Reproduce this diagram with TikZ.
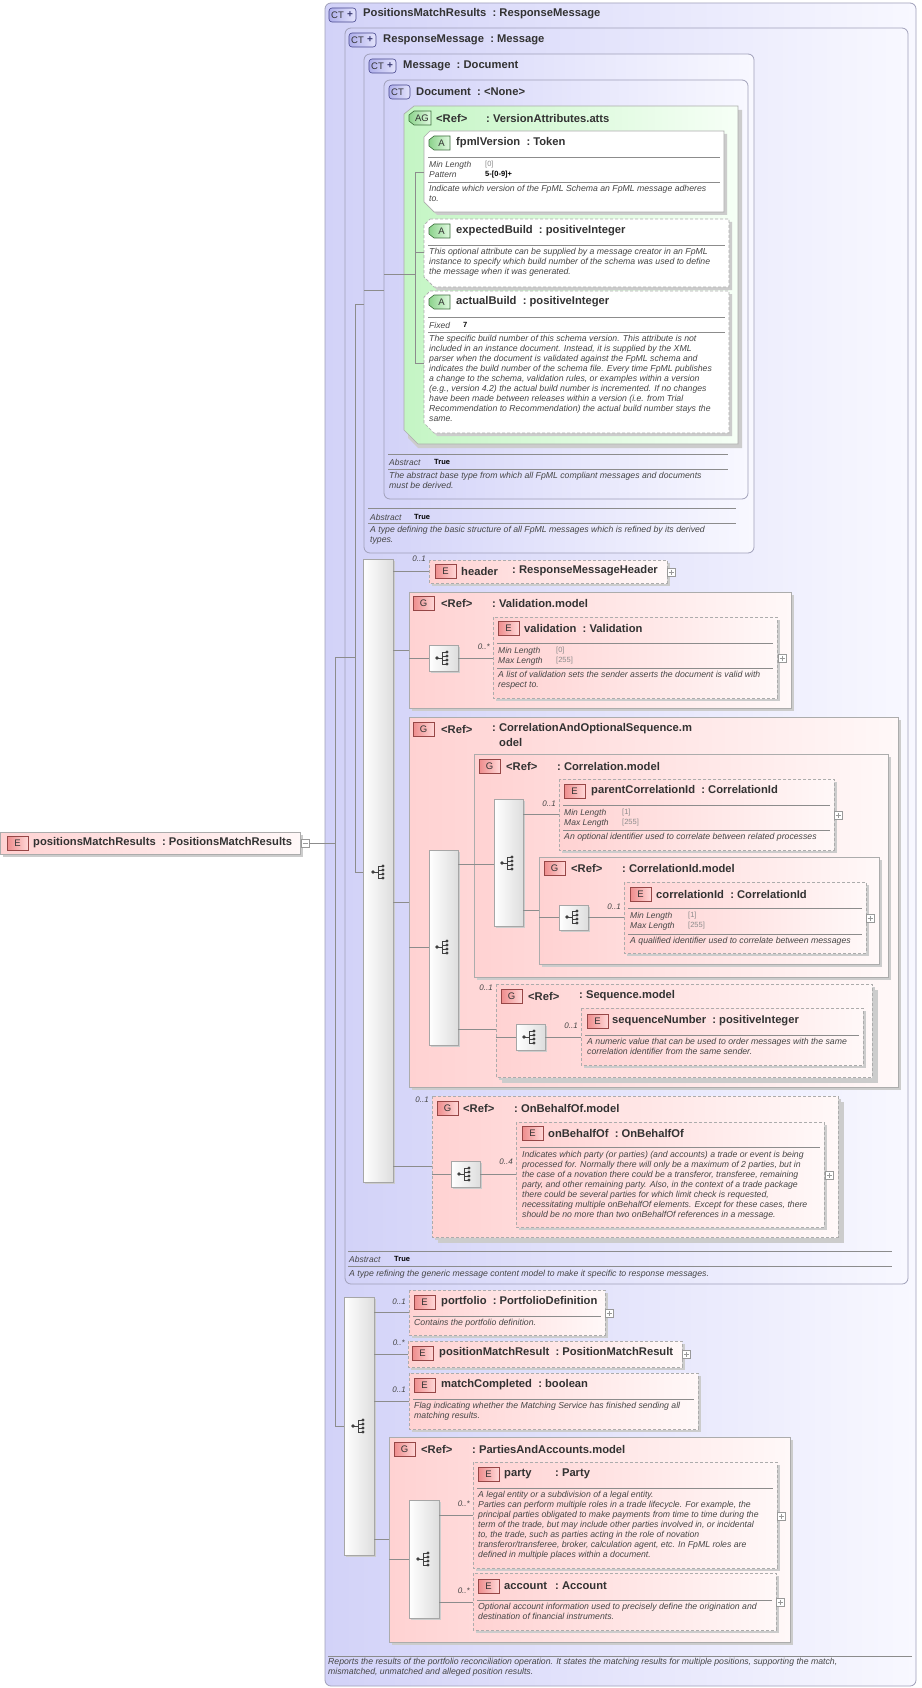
\documentclass[tikz,border=0pt]{standalone}
\usepackage{fontspec}
\setmainfont{Liberation Sans}
\definecolor{ctL}{RGB}{210,210,248}\definecolor{ctR}{RGB}{248,248,255}\definecolor{ctB}{RGB}{160,160,185}
\definecolor{eL}{RGB}{255,210,210}\definecolor{eR}{RGB}{255,248,248}
\definecolor{agL}{RGB}{196,245,196}\definecolor{agR}{RGB}{246,255,246}
\definecolor{bxB}{RGB}{172,172,172}\definecolor{txt}{RGB}{50,50,50}\definecolor{dtx}{RGB}{70,70,70}
\definecolor{eBL}{RGB}{238,140,140}\definecolor{eBR}{RGB}{255,215,215}\definecolor{eBD}{RGB}{150,70,70}
\definecolor{aBL}{RGB}{140,210,140}\definecolor{aBR}{RGB}{225,250,225}\definecolor{aBD}{RGB}{60,110,60}
\definecolor{cBL}{RGB}{175,175,235}\definecolor{cBR}{RGB}{228,228,252}\definecolor{cBD}{RGB}{70,70,140}
\newcommand\bE[3]{\draw[bdgE] (#1,#2-7) rectangle (#1+21,#2+7); \node[bt] at (#1+10.5,#2) {#3};}
\newcommand\bA[4]{\draw[bdgA] (#1+5,#2-7) -- (#1+#3,#2-7) -- (#1+#3,#2+7) -- (#1+5,#2+7) -- (#1,#2+3) -- (#1,#2-3) -- cycle; \node[bt] at (#1+2+#3/2,#2) {#4};}
\newcommand\bCT[4]{\draw[bdgC] (#1,#2-7) rectangle (#1+#3,#2+7); \node[bt,anchor=west] at (#1+2,#2) {CT}; \node[bt,font=\fontsize{10}{10}\selectfont\bfseries,text=cBD!80!black] at (#1+#3-6,#2) {#4};}
\newcommand\T[3]{\node[ttl] at (#1,#2) {#3};}
\newcommand\D[3]{\node[dsc] at (#1,#2-5.5) {#3};}
\newcommand\C[3]{\node[crd] at (#1,#2) {#3};}
\newcommand\Pk[5]{\node[pk] at (#1,#2) {#3}; \node[pv] at (#4,#2) {#5};}
\newcommand\Pb[5]{\node[pk] at (#1,#2) {#3}; \node[pb] at (#4,#2) {#5};}
\newcommand\Sp[3]{\draw[sep] (#1,#3) -- (#2,#3);}
\newcommand\pl[2]{\draw[plb,fill=white] (#1-4,#2-4) rectangle (#1+4,#2+4); \draw[plb] (#1-2.5,#2)--(#1+2.5,#2) (#1,#2-2.5)--(#1,#2+2.5);}
\newcommand\si[2]{\draw[icl] (#1-6,#2)--(#1-1,#2) (#1-1,#2-6)--(#1-1,#2+6) (#1-1,#2-6)--(#1+3,#2-6) (#1-1,#2-2)--(#1+3,#2-2) (#1-1,#2+2)--(#1+3,#2+2) (#1-1,#2+6)--(#1+3,#2+6);
 \foreach \d in {-6,-2,2,6} \fill[icf] (#1+4,#2+\d) circle (1.6); \fill[icf] (#1-6,#2) circle (1.8);}
\newcommand\sbx[4]{\fill[shd] (#1+2,#2+2) rectangle (#3+2,#4+2); \draw[sb] (#1,#2) rectangle (#3,#4);}
\newcommand\bx[5][]{\fill[shd] (#2+3,#3+3) rectangle (#4+3,#5+3); \draw[eb,#1] (#2,#3) rectangle (#4,#5);}
\newcommand\cc{\ \ :\ }
\begin{document}
\begin{tikzpicture}[x=1pt,y=-1pt,
 shd/.style={fill=black!20},
 ct/.style={draw=ctB,rounded corners=6pt,left color=ctL,right color=ctR,line width=0.8pt},
 eb/.style={draw=bxB,left color=eL,right color=eR,line width=0.7pt},
 ab/.style={draw=bxB,left color=agL,right color=agR,line width=0.7pt},
 wb/.style={draw=bxB,fill=white,line width=0.7pt},
 dsh/.style={dash pattern=on 3pt off 2pt},
 ttl/.style={anchor=west,inner sep=0,font=\fontsize{11.2}{12}\selectfont\bfseries,text=txt},
 dsc/.style={anchor=north west,inner sep=0,align=left,font=\fontsize{8.7}{10}\selectfont\itshape,text=dtx},
 crd/.style={anchor=east,inner sep=0,font=\fontsize{8}{9}\selectfont\itshape,text=dtx},
 pk/.style={anchor=west,inner sep=0,font=\fontsize{8.5}{9}\selectfont\itshape,text=dtx},
 pv/.style={anchor=west,inner sep=0,font=\fontsize{7.5}{9}\selectfont,text=black!45},
 pb/.style={anchor=west,inner sep=0,font=\fontsize{7.5}{9}\selectfont\bfseries,text=black},
 sep/.style={draw=black!45,line width=0.6pt},
 cn/.style={draw=black!45,line width=0.6pt},
 bt/.style={inner sep=0,font=\fontsize{9.5}{10}\selectfont,text=txt},
 bdgE/.style={draw=eBD,left color=eBL,right color=eBR,line width=0.6pt},
 bdgA/.style={draw=aBD,left color=aBL,right color=aBR,line width=0.6pt},
 bdgC/.style={draw=cBD,left color=cBL,right color=cBR,line width=0.6pt,rounded corners=3pt},
 plb/.style={draw=black!40,line width=0.5pt},
 icl/.style={draw=black!75,line width=0.9pt},
 icf/.style={fill=black!75},
 sb/.style={draw=black!35,left color=white,right color=black!13,line width=0.6pt}]
\useasboundingbox (0,0) rectangle (921,1688);
\fill[white] (0,0) rectangle (921,1688);
% ---------- root element
\bx{0}{832}{300}{854}
\bE{7}{843}{E}\T{33}{843}{positionsMatchResults\cc PositionsMatchResults}
\draw[plb,fill=white] (301,839) rectangle (309,847); \draw[plb] (302.5,843)--(307.5,843);
% ---------- outer CT
\draw[ct] (325,3) rectangle (916,1686);
\bCT{329}{15}{27}{+}\T{363}{14}{PositionsMatchResults\cc ResponseMessage}
\draw[ct] (345,28) rectangle (908,1284);
\bCT{349}{40}{27}{+}\T{383}{40}{ResponseMessage\cc Message}
\draw[ct] (364,54) rectangle (754,553);
\bCT{369}{66}{27}{+}\T{403}{66}{Message\cc Document}
\draw[ct] (384,80) rectangle (748,499);
\bCT{389}{92}{21}{}\T{416}{92}{Document\cc <None>}
% ---------- AG
\fill[shd] (418,110)--(742,110)--(742,448)--(418,448)--(408,438)--(408,120)--cycle;
\draw[ab] (414,106)--(738,106)--(738,444)--(418,444)--(404,430)--(404,114)--cycle;
\bA{409}{118}{22}{AG}\T{436}{118}{<Ref>}\T{486}{118}{:~VersionAttributes.atts}
% fpmlVersion
\fill[shd] (433,134)--(727,134)--(727,215)--(437,215)--(427,205)--(427,140)--cycle;
\draw[wb] (430,131)--(724,131)--(724,212)--(434,212)--(424,202)--(424,137)--cycle;
\bA{429}{143}{21}{A}\T{456}{143}{fpmlVersion\cc Token}
\Sp{428}{720}{157}
\Pk{429}{165}{Min Length}{485}{[0]}
\Pb{429}{175}{Pattern}{485}{5-[0-9]+}
\Sp{428}{720}{182}
\D{429}{190}{Indicate which version of the FpML Schema an FpML message adheres\\to.}
% expectedBuild
\fill[shd] (433,222)--(732,222)--(732,290)--(437,290)--(427,280)--(427,228)--cycle;
\draw[wb,dsh] (430,219)--(729,219)--(729,287)--(434,287)--(424,277)--(424,225)--cycle;
\bA{429}{231}{21}{A}\T{456}{231}{expectedBuild\cc positiveInteger}
\Sp{428}{725}{245}
\D{429}{253}{This optional attribute can be supplied by a message creator in an FpML\\instance to specify which build number of the schema was used to define\\the message when it was generated.}
% actualBuild
\fill[shd] (433,294)--(732,294)--(732,436)--(437,436)--(427,426)--(427,300)--cycle;
\draw[wb,dsh] (430,291)--(729,291)--(729,433)--(434,433)--(424,423)--(424,297)--cycle;
\bA{429}{302}{21}{A}\T{456}{302}{actualBuild\cc positiveInteger}
\Sp{428}{725}{317}
\Pb{429}{325}{Fixed}{463}{7}
\Sp{428}{725}{332}
\D{429}{340}{The specific build number of this schema version. This attribute is not\\included in an instance document. Instead, it is supplied by the XML\\parser when the document is validated against the FpML schema and\\indicates the build number of the schema file. Every time FpML publishes\\a change to the schema, validation rules, or examples within a version\\(e.g., version 4.2) the actual build number is incremented. If no changes\\have been made between releases within a version (i.e. from Trial\\Recommendation to Recommendation) the actual build number stays the\\same.}
\draw[cn] (415,172)--(415,363) (415,172)--(424,172) (415,252)--(424,252) (415,363)--(424,363);
% Document abstract
\Sp{388}{728}{454}
\node[pk] at (389,462) {Abstract}; \node[pb] at (434,462) {True};
\Sp{388}{728}{469}
\D{389}{477}{The abstract base type from which all FpML compliant messages and documents\\must be derived.}
% Message abstract
\Sp{368}{736}{508}
\node[pk] at (370,517) {Abstract}; \node[pb] at (414,517) {True};
\Sp{368}{736}{523}
\D{370}{531}{A type defining the basic structure of all FpML messages which is refined by its derived\\types.}
% chain connectors
\draw[cn] (384,274)--(415,274) (364,290)--(384,290) (355,304)--(364,304) (355,304)--(355,872)--(363,872)
 (335,657)--(355,657) (335,657)--(335,1426)--(344,1426) (309,843)--(335,843);
% ---------- ResponseMessage sequence
\sbx{363}{559}{393}{1182}\si{379}{872}
% header
\bx[dsh]{429}{560}{667}{583}
\bE{435}{571}{E}\T{461}{571}{header}\T{512}{571}{:~ResponseMessageHeader}
\pl{671}{572}\C{426}{559}{0..1}
\draw[cn] (393,571)--(429,571);
% Validation.model
\bx{409}{592}{791}{708}
\bE{413}{603}{G}\T{441}{603}{<Ref>}\T{492}{603}{:~Validation.model}
\sbx{429}{645}{458}{671}\si{443}{658}
\draw[cn] (393,650)--(409,650) (409,658)--(429,658) (458,658)--(493,658);
\bx[dsh]{493}{617}{777}{698}
\bE{498}{628}{E}\T{524}{628}{validation\cc Validation}
\Sp{497}{773}{643}
\Pk{498}{651}{Min Length}{556}{[0]}
\Pk{498}{661}{Max Length}{556}{[255]}
\Sp{497}{773}{668}
\D{498}{676}{A list of validation sets the sender asserts the document is valid with\\respect to.}
\C{490}{647}{0..*}\pl{782}{658}
% CorrelationAndOptionalSequence.model
\bx{409}{717}{898}{1087}
\bE{413}{729}{G}\T{441}{729}{<Ref>}\T{492}{729}{:~CorrelationAndOptionalSequence.m}\T{499}{742}{odel}
\sbx{429}{850}{458}{1045}\si{443}{947}
\draw[cn] (393,902)--(409,902) (409,947)--(429,947);
% Correlation.model
\bx{474}{754}{888}{977}
\bE{479}{766}{G}\T{506}{766}{<Ref>}\T{557}{766}{:~Correlation.model}
\sbx{494}{799}{523}{926}\si{508}{863}
\draw[cn] (458,864)--(494,864);
\bx[dsh]{559}{779}{834}{850}
\bE{564}{791}{E}\T{591}{791}{parentCorrelationId\cc CorrelationId}
\Sp{563}{830}{805}
\Pk{564}{813}{Min Length}{622}{[1]}
\Pk{564}{823}{Max Length}{622}{[255]}
\Sp{563}{830}{830}
\D{564}{838}{An optional identifier used to correlate between related processes}
\C{556}{804}{0..1}\pl{838}{815}
\draw[cn] (523,814)--(559,814);
% CorrelationId.model
\bx{539}{857}{879}{964}
\bE{544}{868}{G}\T{571}{868}{<Ref>}\T{622}{868}{:~CorrelationId.model}
\sbx{559}{905}{588}{930}\si{573}{917}
\draw[cn] (523,910)--(539,910) (539,917)--(559,917) (588,917)--(624,917);
\bx[dsh]{624}{882}{866}{953}
\bE{630}{894}{E}\T{656}{894}{correlationId\cc CorrelationId}
\Sp{628}{862}{908}
\Pk{630}{916}{Min Length}{688}{[1]}
\Pk{630}{926}{Max Length}{688}{[255]}
\Sp{628}{862}{934}
\D{630}{942}{A qualified identifier used to correlate between messages}
\C{621}{907}{0..1}\pl{870}{918}
% Sequence.model
\fill[shd] (502,990) rectangle (878,1083);
\bx[dsh]{496}{984}{872}{1077}
\bE{501}{996}{G}\T{528}{996}{<Ref>}\T{579}{996}{:~Sequence.model}
\C{493}{988}{0..1}
\sbx{516}{1024}{545}{1050}\si{530}{1037}
\draw[cn] (458,1029)--(496,1029) (496,1037)--(516,1037) (545,1037)--(581,1037);
\bx[dsh]{581}{1008}{863}{1065}
\bE{587}{1021}{E}\T{612}{1021}{sequenceNumber\cc positiveInteger}
\Sp{585}{859}{1035}
\D{587}{1043}{A numeric value that can be used to order messages with the same\\correlation identifier from the same sender.}
\C{578}{1026}{0..1}
% OnBehalfOf.model
\fill[shd] (438,1102) rectangle (844,1243);
\bx[dsh]{432}{1096}{838}{1237}
\bE{437}{1108}{G}\T{463}{1108}{<Ref>}\T{514}{1108}{:~OnBehalfOf.model}
\C{429}{1100}{0..1}
\sbx{451}{1161}{480}{1187}\si{465}{1174}
\draw[cn] (393,1166)--(432,1166) (432,1174)--(451,1174) (480,1174)--(516,1174);
\bx[dsh]{516}{1122}{824}{1227}
\bE{522}{1133}{E}\T{548}{1133}{onBehalfOf\cc OnBehalfOf}
\Sp{520}{820}{1147}
\D{522}{1156}{Indicates which party (or parties) (and accounts) a trade or event is being\\processed for. Normally there will only be a maximum of 2 parties, but in\\the case of a novation there could be a transferor, transferee, remaining\\party, and other remaining party. Also, in the context of a trade package\\there could be several parties for which limit check is requested,\\necessitating multiple onBehalfOf elements. Except for these cases, there\\should be no more than two onBehalfOf references in a message.}
\C{513}{1162}{0..4}\pl{829}{1175}
% ResponseMessage abstract
\Sp{348}{892}{1251}
\node[pk] at (349,1259) {Abstract}; \node[pb] at (394,1259) {True};
\Sp{348}{892}{1266}
\D{349}{1275}{A type refining the generic message content model to make it specific to response messages.}
% ---------- outer sequence
\sbx{344}{1297}{374}{1555}\si{359}{1426}
\bx[dsh]{409}{1290}{605}{1335}
\bE{414}{1302}{E}\T{441}{1302}{portfolio\cc PortfolioDefinition}
\Sp{413}{601}{1316}
\D{414}{1324}{Contains the portfolio definition.}
\C{406}{1302}{0..1}\pl{609}{1313}
\draw[cn] (374,1312)--(409,1312);
\bx[dsh]{408}{1341}{682}{1367}
\bE{412}{1353}{E}\T{439}{1353}{positionMatchResult\cc PositionMatchResult}
\C{405}{1343}{0..*}\pl{686}{1354}
\draw[cn] (374,1354)--(408,1354);
\bx[dsh]{409}{1373}{698}{1429}
\bE{414}{1385}{E}\T{441}{1385}{matchCompleted\cc boolean}
\Sp{413}{694}{1399}
\D{414}{1407}{Flag indicating whether the Matching Service has finished sending all\\matching results.}
\C{406}{1390}{0..1}
\draw[cn] (374,1401)--(409,1401);
% PartiesAndAccounts.model
\bx{389}{1437}{790}{1642}
\bE{394}{1449}{G}\T{421}{1449}{<Ref>}\T{472}{1449}{:~PartiesAndAccounts.model}
\draw[cn] (374,1539)--(389,1539) (389,1559)--(409,1559);
\sbx{409}{1500}{439}{1618}\si{424}{1559}
\bx[dsh]{473}{1462}{777}{1568}
\bE{478}{1474}{E}\T{504}{1474}{party}\T{555}{1474}{:~Party}
\Sp{477}{773}{1488}
\D{478}{1496}{A legal entity or a subdivision of a legal entity.\\Parties can perform multiple roles in a trade lifecycle. For example, the\\principal parties obligated to make payments from time to time during the\\term of the trade, but may include other parties involved in, or incidental\\to, the trade, such as parties acting in the role of novation\\transferor/transferee, broker, calculation agent, etc. In FpML roles are\\defined in multiple places within a document.}
\C{470}{1504}{0..*}\pl{781}{1516}
\draw[cn] (439,1515)--(473,1515);
\bx[dsh]{473}{1573}{776}{1630}
\bE{478}{1586}{E}\T{504}{1586}{account}\T{555}{1586}{:~Account}
\Sp{477}{772}{1600}
\D{478}{1608}{Optional account information used to precisely define the origination and\\destination of financial instruments.}
\C{470}{1591}{0..*}\pl{780}{1602}
\draw[cn] (439,1602)--(473,1602);
% outer description
\Sp{328}{912}{1656}
\D{328}{1663}{Reports the results of the portfolio reconciliation operation. It states the matching results for multiple positions, supporting the match,\\mismatched, unmatched and alleged position results.}
\end{tikzpicture}
\end{document}
